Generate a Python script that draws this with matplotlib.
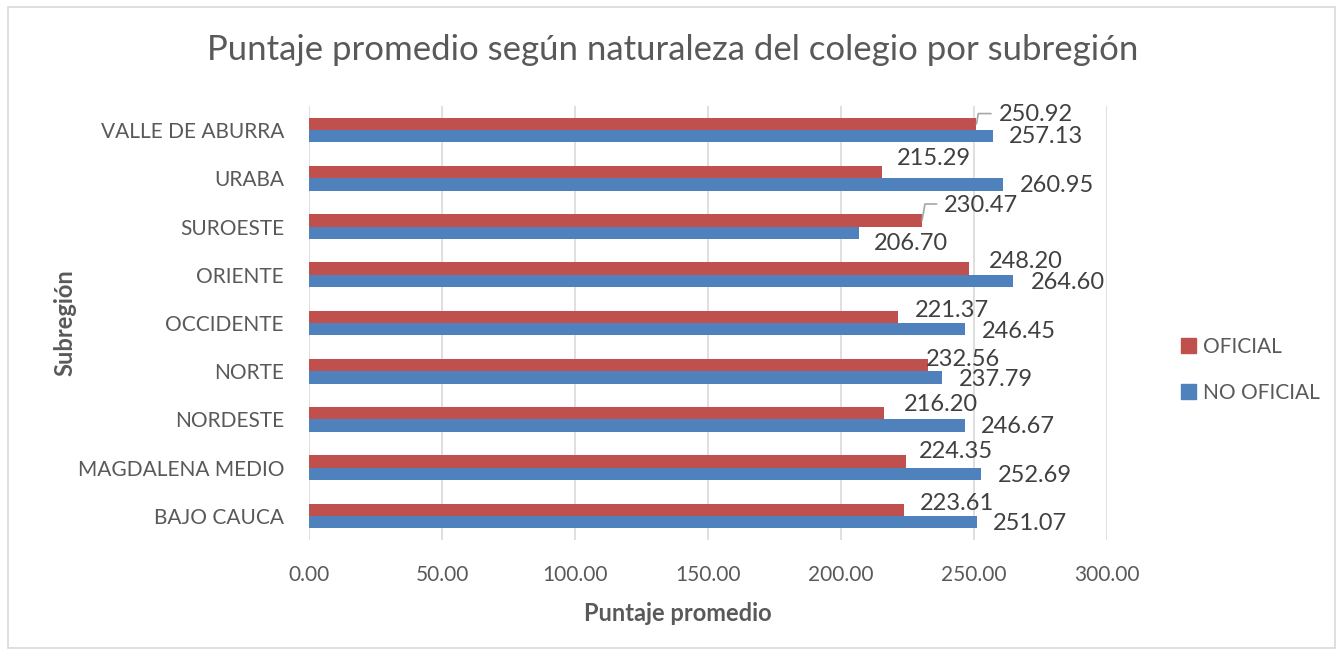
import matplotlib
matplotlib.use('Agg')
import matplotlib.pyplot as plt
from matplotlib.patches import Patch, Rectangle
import numpy as np

plt.rcParams['font.family'] = ['Lato', 'DejaVu Sans']

subregiones = ['VALLE DE ABURRA', 'URABA', 'SUROESTE', 'ORIENTE', 'OCCIDENTE',
               'NORTE', 'NORDESTE', 'MAGDALENA MEDIO', 'BAJO CAUCA']
oficial = [250.92, 215.29, 230.47, 248.20, 221.37, 232.56, 216.20, 224.35, 223.61]
no_oficial = [257.13, 260.95, 206.70, 264.60, 246.45, 237.79, 246.67, 252.69, 251.07]

# label offsets in pixels (dx right, dy down) from the bar end
off_red = [(59, -9), (52, -14), (59, -15), (57, -7), (54, -6), (35, -6), (57, -9), (50, -10), (53, -6)]
off_blue = [(53, 0), (54, 1), (52, 11), (55, 2), (54, 2), (54, 2), (53, 1), (54, 2), (53, 1)]
leader = [True, False, True, False, False, False, False, False, False]

c_red = '#C0504D'
c_blue = '#4F81BD'
grey = '#595959'

fig = plt.figure(figsize=(13.43, 6.53), dpi=100)
ax = fig.add_axes([309/1343, 1-540/653, 798/1343, 434/653])

y = np.arange(len(subregiones))
h = 0.255
ax.barh(y - h/2, oficial, height=h, color=c_red, zorder=3)
ax.barh(y + h/2, no_oficial, height=h, color=c_blue, zorder=3)

ax.set_xlim(0, 300)
ax.set_ylim(len(subregiones) - 0.5, -0.5)
ax.set_xticks(np.arange(0, 301, 50))
ax.set_xticklabels(['%.2f' % v for v in np.arange(0, 301, 50)])
ax.set_yticks(y)
ax.set_yticklabels(subregiones)
ax.tick_params(axis='both', length=0, labelsize=15, colors=grey)
ax.tick_params(axis='y', pad=18)
ax.tick_params(axis='x', pad=18)
for s in ax.spines.values():
    s.set_visible(False)
ax.grid(axis='x', color='#d9d9d9', linewidth=1.2, zorder=0)

px = 0.72
for i in range(len(subregiones)):
    for val, yy, off in [(oficial[i], y[i] - h/2, off_red[i]), (no_oficial[i], y[i] + h/2, off_blue[i])]:
        ax.annotate('%.2f' % val, xy=(val, yy), xytext=(off[0]*px, -off[1]*px),
                    textcoords='offset points', ha='center', va='center',
                    fontsize=17, color='#404040', zorder=4)
    if leader[i]:
        ax.annotate('', xy=(oficial[i], y[i] - h/2), xytext=(off_red[i][0]*px - 32, -off_red[i][1]*px + 1),
                    textcoords='offset points',
                    arrowprops=dict(arrowstyle='-', color='#a6a6a6', lw=1.2, shrinkA=0, shrinkB=0,
                                    connectionstyle='angle,angleA=0,angleB=80,rad=0'))

ax.set_xlabel('Puntaje promedio', fontsize=17, fontweight='bold', color=grey)
ax.xaxis.set_label_coords(0.462, -0.143)
ax.set_ylabel('Subregión', fontsize=17, fontweight='bold', color=grey)
ax.yaxis.set_label_coords(-0.292, 0.5)

fig.text(673/1343, 1-50/653, 'Puntaje promedio según naturaleza del colegio por subregión',
         ha='center', va='center', fontsize=25, color=grey)

handles = [Patch(color=c_red, label='OFICIAL'), Patch(color=c_blue, label='NO OFICIAL')]
fig.legend(handles=handles, loc='center left', bbox_to_anchor=(1181/1343, 1-370/653),
           frameon=False, fontsize=15, handlelength=0.7, handleheight=0.7,
           handletextpad=0.35, labelspacing=1.25, borderpad=0, borderaxespad=0,
           labelcolor=grey)

fig.patches.append(Rectangle((8/1343, 5/653), 1327/1343, 641/653, transform=fig.transFigure,
                             fill=False, edgecolor='#d9d9d9', linewidth=1.2))

fig.savefig('out.png', dpi=100)
